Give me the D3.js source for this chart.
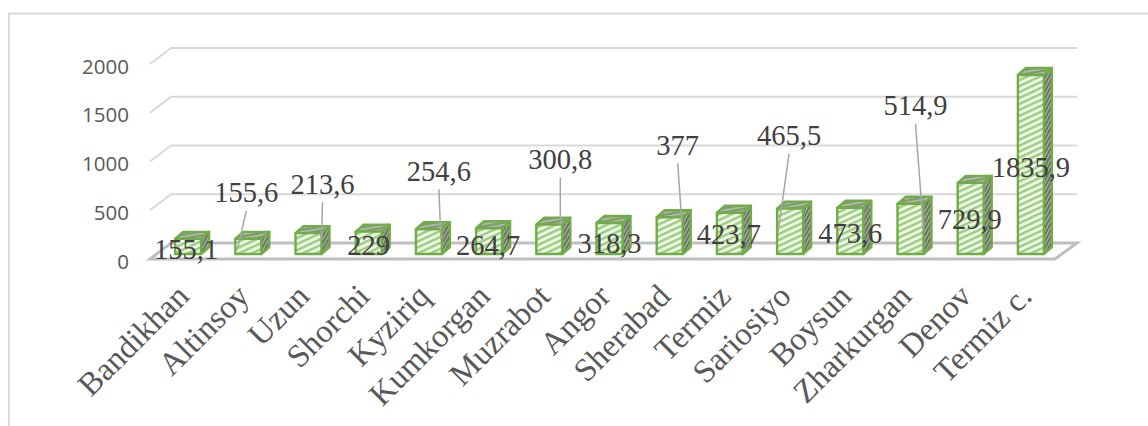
<!DOCTYPE html>
<html><head><meta charset="utf-8">
<script src="https://d3js.org/d3.v7.min.js"></script>
<style>html,body{margin:0;padding:0;background:#fff;overflow:hidden}svg{display:block}</style>
</head><body><svg id="c" width="1148" height="426"></svg>
<script>
const categories=["Bandikhan","Altinsoy","Uzun","Shorchi","Kyziriq","Kumkorgan","Muzrabot","Angor","Sherabad","Termiz","Sariosiyo","Boysun","Zharkurgan","Denov","Termiz c."];
const values=[155.1,155.6,213.6,229,254.6,264.7,300.8,318.3,377,423.7,465.5,473.6,514.9,729.9,1835.9];
const valueLabels=["155,1","155,6","213,6","229","254,6","264,7","300,8","318,3","377","423,7","465,5","473,6","514,9","729,9","1835,9"];
const yTicks=[0,500,1000,1500,2000];

// layout of the moved data labels (dx, dy from bar top centre; leader flag)
const labelShift=[[-2,11,0],[-2,-46,1],[14,-49,1],[0,14,0],[10,-58,1],[-1,17,0],[11,-65,1],[0,21,0],[8,-72,1],[-1,22,0],[-1,-73,1],[0,26,0],[5,-98,1],[-1,37,0],[0,93,0]];
const leaderEnd=[null,[-11,11],[13,7],null,[12,11],null,[11,0],null,[12,3],null,[-12,23],null,[13,26],null,null];

const svg=d3.select("#c");
const dX=21,dY=16,depthX=8,depthY=7,baseGap=5;
const x=d3.scaleBand().domain(categories).range([160,1063]).paddingInner(0).paddingOuter(0);
const y=d3.scaleLinear().domain([0,2000]).range([259,64]);
const barW=26;
const cx=d=>x(d)+x.bandwidth()/2-2;

const defs=svg.append("defs");
function hatch(id,bg,fg,w,gap,ang){
  const p=defs.append("pattern").attr("id",id).attr("patternUnits","userSpaceOnUse").attr("width",gap).attr("height",gap).attr("patternTransform",`rotate(${ang})`);
  p.append("rect").attr("width",gap).attr("height",gap).attr("fill",bg);
  p.append("rect").attr("width",gap).attr("height",w).attr("fill",fg);
}
hatch("hFront","#eef6e8","#9ccd7e",2.4,5.4,-25);
hatch("hSide","#66725f","#a9b0a4",1.3,3.2,-62);
hatch("hTop","#7e9a6f","#b6bfb0",1.6,4,-10);

svg.append("path").attr("d","M9,430V13.5H1150").attr("fill","none").attr("stroke","#d9d9d9").attr("stroke-width",2);

const grid=svg.append("g").attr("fill","none").attr("stroke","#d9d9d9").attr("stroke-width",2);
yTicks.filter(t=>t>0).forEach(t=>{
  const p=d3.path();p.moveTo(150,y(t));p.lineTo(150+dX,y(t)-dY);p.lineTo(1056+dX,y(t)-dY);
  grid.append("path").attr("d",p.toString());
});
const fp=d3.path();fp.moveTo(150,y(0));fp.lineTo(1055,y(0));fp.lineTo(1055+dX+1,y(0)-dY);fp.lineTo(150+dX,y(0)-dY);fp.closePath();
svg.append("path").attr("d",fp.toString()).attr("fill","none").attr("stroke","#bfbfbf").attr("stroke-width",3).attr("stroke-linejoin","miter");

const bars=svg.append("g").selectAll("g").data(categories).join("g").attr("stroke","#70ad47").attr("stroke-width",2.4).attr("stroke-linejoin","round");
const base=y(0)-baseGap;
bars.each(function(d,i){
  const g=d3.select(this),l=cx(d)-barW/2,r=l+barW,t=base-(y(0)-y(values[i]));
  g.append("path").attr("fill","url(#hSide)").attr("d",`M${r},${t}L${r+depthX},${t-depthY}L${r+depthX},${base-depthY}L${r},${base}Z`);
  g.append("path").attr("fill","url(#hTop)").attr("d",`M${l},${t}L${l+depthX},${t-depthY}L${r+depthX},${t-depthY}L${r},${t}Z`);
  g.append("rect").attr("x",l).attr("y",t).attr("width",barW).attr("height",base-t).attr("fill","url(#hFront)");
});

const ax=d3.axisLeft(y).tickValues(yTicks).tickSize(0).tickPadding(0).tickFormat(d3.format("d"));
const ga=svg.append("g").attr("transform","translate(129,2.5)").call(ax);
ga.select(".domain").remove();
ga.selectAll("text").attr("font-family","'Open Sans'").attr("font-size",20.5).attr("fill","#595959");

const xa=d3.axisBottom(x).tickSize(0).tickPadding(0);
const gx=svg.append("g").call(xa);
gx.select(".domain").remove();
gx.selectAll(".tick").attr("transform",d=>`translate(${cx(d)-13.5},282)`);
gx.selectAll("text").attr("font-family","'Liberation Serif'").attr("font-size",32.5).attr("fill","#595959")
  .attr("text-anchor","end").attr("x",0).attr("y",0).attr("dy","0.7em").attr("transform","rotate(-45)");

const barTop=i=>base-(y(0)-y(values[i]));
svg.append("g").attr("stroke","#a6a6a6").attr("stroke-width",1.5).selectAll("line").data(categories.map((d,i)=>i).filter(i=>labelShift[i][2])).join("line")
  .attr("x1",i=>cx(categories[i])+labelShift[i][0]).attr("y1",i=>barTop(i)+labelShift[i][1]+18)
  .attr("x2",i=>cx(categories[i])+leaderEnd[i][0]).attr("y2",i=>barTop(i)+leaderEnd[i][1]);
svg.append("g").selectAll("text").data(valueLabels).join("text")
  .attr("x",(d,i)=>cx(categories[i])+labelShift[i][0]).attr("y",(d,i)=>barTop(i)+labelShift[i][1])
  .attr("text-anchor","middle").attr("dominant-baseline","central")
  .attr("font-family","'Liberation Serif'").attr("font-size",28.5).attr("fill","#404040").text(d=>d);
</script></body></html>
